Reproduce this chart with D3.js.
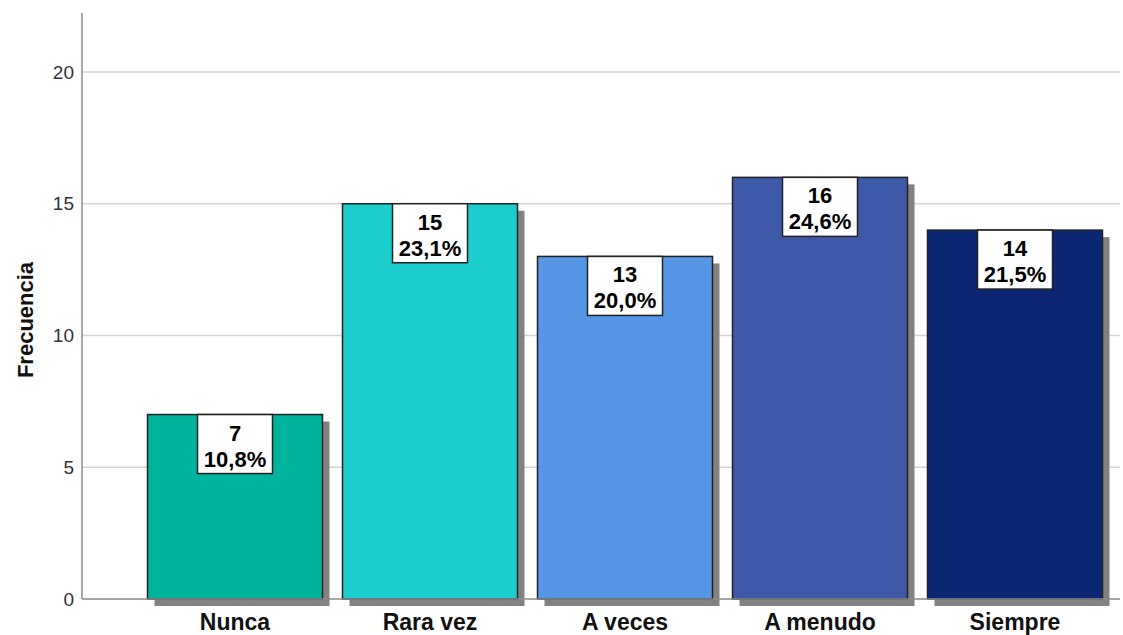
<!DOCTYPE html>
<html><head><meta charset="utf-8">
<script src="https://cdn.jsdelivr.net/npm/d3@7/dist/d3.min.js"></script>
<style>body{margin:0;background:#fff}svg{display:block}text{font-family:"Liberation Sans",Arial,sans-serif}</style>
</head><body>
<script>
const categories = ["Nunca","Rara vez","A veces","A menudo","Siempre"];
const counts = [7,15,13,16,14];
const percents = ["10,8%","23,1%","20,0%","24,6%","21,5%"];
const colors = ["#00B39F","#1CCDCD","#5597E4","#3E59A8","#0B2672"];
const yTicks = [0,5,10,15,20];

const W=1123,H=635;
const svg=d3.select("body").append("svg").attr("width",W).attr("height",H);
const y=d3.scaleLinear().domain([0,22.2]).range([599,14]);
const x=d3.scaleBand().domain(categories).range([137.5,1112.5]).paddingInner(20/195).paddingOuter(10/195);
const axL=82, axR=1120;

// grid
svg.append("g").selectAll("line").data(yTicks.filter(d=>d>0)).join("line")
 .attr("x1",axL).attr("x2",axR).attr("y1",d=>y(d)).attr("y2",d=>y(d))
 .attr("stroke","#d4d4d4").attr("stroke-width",1.5);

// shadows
svg.append("g").selectAll("rect").data(categories).join("rect")
 .attr("x",d=>x(d)+7).attr("y",(d,i)=>y(counts[i])+7)
 .attr("width",x.bandwidth()).attr("height",(d,i)=>y(0)-y(counts[i]))
 .attr("fill","#828282");

// bars
svg.append("g").selectAll("rect").data(categories).join("rect")
 .attr("x",d=>x(d)).attr("y",(d,i)=>y(counts[i]))
 .attr("width",x.bandwidth()).attr("height",(d,i)=>y(0)-y(counts[i]))
 .attr("fill",(d,i)=>colors[i]).attr("stroke","#222").attr("stroke-width",1.5);

// axes
svg.append("line").attr("x1",axL).attr("x2",axL).attr("y1",13).attr("y2",599).attr("stroke","#8a8a8a").attr("stroke-width",1.5);
svg.append("line").attr("x1",axL).attr("x2",axR).attr("y1",599).attr("y2",599).attr("stroke","#8a8a8a").attr("stroke-width",1.5);

// y tick labels
svg.append("g").selectAll("text").data(yTicks).join("text")
 .attr("x",74).attr("y",d=>y(d)).attr("dy","0.35em").attr("text-anchor","end")
 .attr("font-size",19).attr("fill","#333").text(d=>d);

// y title
svg.append("text").attr("transform","translate(33,320) rotate(-90)")
 .attr("text-anchor","middle").attr("font-size",22).attr("font-weight","bold").attr("fill","#111").text("Frecuencia");

// category labels
svg.append("g").selectAll("text").data(categories).join("text")
 .attr("x",d=>x(d)+x.bandwidth()/2).attr("y",630).attr("text-anchor","middle")
 .attr("font-size",23).attr("font-weight","bold").attr("fill","#111").text(d=>d);

// value label boxes
const lab=svg.append("g").selectAll("g").data(categories).join("g")
 .attr("transform",(d,i)=>`translate(${x(d)+x.bandwidth()/2},${y(counts[i])})`);
lab.append("rect").attr("x",-37.5).attr("y",0).attr("width",75).attr("height",59)
 .attr("fill","#fff").attr("stroke","#222").attr("stroke-width",1.5);
lab.append("text").attr("y",26).attr("text-anchor","middle").attr("font-size",22).attr("font-weight","bold").attr("fill","#000").text((d,i)=>counts[i]);
lab.append("text").attr("y",52).attr("text-anchor","middle").attr("font-size",22).attr("font-weight","bold").attr("fill","#000").text((d,i)=>percents[i]);
</script>
</body></html>
